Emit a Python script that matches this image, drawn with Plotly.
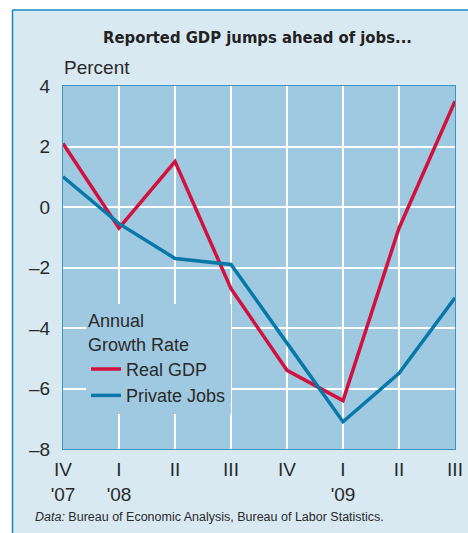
import plotly.graph_objects as go

quarters = ["IV<br>'07", "I<br>'08", "II", "III", "IV", "I<br>'09", "II", "III"]
real_gdp = [2.1, -0.7, 1.5, -2.7, -5.4, -6.4, -0.7, 3.5]
private_jobs = [1.0, -0.55, -1.7, -1.9, -4.5, -7.1, -5.5, -3.0]
y_ticks = [4, 2, 0, -2, -4, -6, -8]
y_tick_labels = ["4", "2", "0", "–2", "–4", "–6", "–8"]

x_idx = list(range(len(quarters)))

W, H = 468, 533
L, R, T, B = 63, 13, 86, 84
PW, PH = W - L - R, H - T - B

def px(x):
    return (x - L) / PW

def py(y):
    return (H - B - y) / PH

FONT = "Liberation Sans, Arial, sans-serif"
TXT = "#2a2a2a"
GDP_C = "#d2123e"
JOBS_C = "#0878a8"
PLOT_BG = "#9ec9e1"
OUTER_BG = "#d8e9f2"
FRAME_C = "#1a86bd"

fig = go.Figure()
fig.add_trace(go.Scatter(x=x_idx, y=real_gdp, mode="lines", name="Real GDP",
                         line=dict(color=GDP_C, width=3.5)))
fig.add_trace(go.Scatter(x=x_idx, y=private_jobs, mode="lines", name="Private Jobs",
                         line=dict(color=JOBS_C, width=3.5)))

fig.update_layout(
    width=W, height=H,
    autosize=False,
    margin=dict(l=L, r=R, t=T, b=B, autoexpand=False),
    paper_bgcolor=OUTER_BG,
    plot_bgcolor=PLOT_BG,
    font=dict(family=FONT, size=19, color=TXT),
    title=dict(text="<b>Reported GDP jumps ahead of jobs...</b>",
               xref="container", yref="container",
               x=257.5 / W, y=1 - 37 / H, xanchor="center", yanchor="middle",
               font=dict(family="Liberation Sans Narrow, DejaVu Sans Condensed, Arial Narrow, sans-serif",
                         size=16.5, color="#222222")),
    showlegend=True,
    legend=dict(
        title=dict(text="Annual<br>Growth Rate", font=dict(size=18, color=TXT)),
        x=px(86), y=py(304), xanchor="left", yanchor="top",
        bgcolor=PLOT_BG, borderwidth=0,
        font=dict(size=18, color=TXT),
        itemwidth=30, tracegroupgap=0,
    ),
    xaxis=dict(
        range=[0, len(quarters) - 1],
        tickmode="array", tickvals=x_idx, ticktext=quarters,
        showgrid=True, gridcolor="white", gridwidth=2,
        showline=True, linecolor="#3b95c2", linewidth=1, mirror=True,
        zeroline=False, ticks="", ticklabelstandoff=3,
        tickfont=dict(size=19, color=TXT),
        automargin=False, fixedrange=True,
    ),
    yaxis=dict(
        range=[-8, 4],
        tickmode="array", tickvals=y_ticks, ticktext=y_tick_labels,
        showgrid=True, gridcolor="white", gridwidth=2,
        showline=True, linecolor="#3b95c2", linewidth=1, mirror=True,
        zeroline=False, ticks="", ticklabelstandoff=8,
        tickfont=dict(size=19, color=TXT),
        automargin=False, fixedrange=True,
    ),
    shapes=[
        # white margin outside the chart frame (left and top)
        dict(type="rect", xref="paper", yref="paper", layer="below",
             x0=px(-5), x1=px(12.5), y0=py(H + 5), y1=py(-5),
             fillcolor="white", line=dict(width=0)),
        dict(type="rect", xref="paper", yref="paper", layer="below",
             x0=px(-5), x1=px(W + 5), y0=py(10), y1=py(-5),
             fillcolor="white", line=dict(width=0)),
        # frame lines
        dict(type="line", xref="paper", yref="paper", layer="below",
             x0=px(12.5), x1=px(12.5), y0=py(H + 5), y1=py(10),
             line=dict(color=FRAME_C, width=1.5)),
        dict(type="line", xref="paper", yref="paper", layer="below",
             x0=px(12.5), x1=px(W + 5), y0=py(10), y1=py(10),
             line=dict(color=FRAME_C, width=1.5)),
    ],
    annotations=[
        dict(text="Percent", xref="paper", yref="paper", x=px(62), y=py(68),
             xanchor="left", yanchor="middle", showarrow=False,
             font=dict(size=19, color=TXT)),
        dict(text="<i>Data:</i> Bureau of Economic Analysis, Bureau of Labor Statistics.",
             xref="paper", yref="paper", x=px(33), y=py(517),
             xanchor="left", yanchor="middle", showarrow=False,
             font=dict(size=12.5, color=TXT)),
    ],
)

fig.write_html("out.html", config={"displayModeBar": False},
               post_script="document.body.style.margin='0';")
